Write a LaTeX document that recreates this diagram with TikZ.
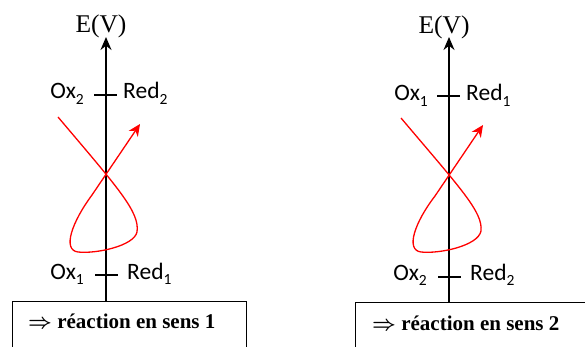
\documentclass[tikz,border=0pt]{standalone}
\usepackage{fontspec}
\setmainfont{Liberation Serif}
\newfontfamily\lblfont{Carlito}
\usetikzlibrary{arrows.meta}
\newcommand{\lowsub}[1]{\raisebox{-0.22em}{\fontsize{15.5}{15.5}\selectfont #1}}
\tikzset{
  axisline/.style={line width=1.4pt, -{Stealth[length=13pt,width=11pt]}},
  tickline/.style={line width=1.2pt},
  lbl/.style={inner sep=0pt, font=\lblfont\fontsize{23.5}{23.5}\selectfont},
  evlbl/.style={inner sep=0pt, font=\fontsize{25.5}{25.5}\selectfont},
  boxtxt/.style={inner sep=0pt, font=\bfseries\boldmath\fontsize{21}{21}\selectfont},
  framebox/.style={draw, line width=1pt, inner sep=0pt, anchor=north west},
  redpath/.style={red, line width=1.3pt, -{Stealth[length=12pt,width=11pt]}}
}
\begin{document}
\begin{tikzpicture}[x=1pt,y=-1pt]
\useasboundingbox (0,0) rectangle (585,347);
\clip (0,0) rectangle (585,347);
% ---------- left panel ----------
\node[framebox, minimum width=234pt, minimum height=60pt] (box1) at (12,301) {};
\node[boxtxt, anchor=base west] (txt1) at (28,328) {$\Rightarrow$ réaction en sens 1};
\coordinate (base1) at (106,301);
\coordinate (top1) at (106,37);
\draw[axisline] (base1) -- (top1);
\node[evlbl, anchor=base] (ev1) at (101,33) {E(V)};
\coordinate (ta1) at (94,95); \coordinate (tb1) at (117,95);
\draw[tickline] (ta1) -- (tb1);
\coordinate (tc1) at (95,275); \coordinate (td1) at (118,275);
\draw[tickline] (tc1) -- (td1);
\node[lbl, anchor=base east] (ox2a) at (84,99) {Ox\lowsub{2}};
\node[lbl, anchor=base west] (red2a) at (123,99) {Red\lowsub{2}};
\node[lbl, anchor=base east] (ox1a) at (84,279) {Ox\lowsub{1}};
\node[lbl, anchor=base west] (red1a) at (127,279) {Red\lowsub{1}};
\draw[redpath] (58,117) .. controls (118,188) and (140,212) .. (137,232)
  .. controls (134,246) and (96,254) .. (78,252)
  .. controls (62,250) and (72,222) .. (92,195) -- (140,124);
% ---------- right panel ----------
\node[framebox, minimum width=240pt, minimum height=60pt] (box2) at (355,302) {};
\node[boxtxt, anchor=base west] (txt2) at (372,330) {$\Rightarrow$ réaction en sens 2};
\coordinate (base2) at (449,302);
\coordinate (top2) at (449,37);
\draw[axisline] (base2) -- (top2);
\node[evlbl, anchor=base] (ev2) at (444,34) {E(V)};
\coordinate (ta2) at (437,96); \coordinate (tb2) at (460,96);
\draw[tickline] (ta2) -- (tb2);
\coordinate (tc2) at (438,277); \coordinate (td2) at (461,277);
\draw[tickline] (tc2) -- (td2);
\node[lbl, anchor=base east] (ox1b) at (428,101) {Ox\lowsub{1}};
\node[lbl, anchor=base west] (red1b) at (466,101) {Red\lowsub{1}};
\node[lbl, anchor=base east] (ox2b) at (427,280) {Ox\lowsub{2}};
\node[lbl, anchor=base west] (red2b) at (470,280) {Red\lowsub{2}};
\draw[redpath] (401,118) .. controls (461,189) and (483,212) .. (481,231)
  .. controls (478,246) and (439,254) .. (421,252)
  .. controls (405,250) and (415,222) .. (435,196) -- (483,125);
\end{tikzpicture}
\end{document}
